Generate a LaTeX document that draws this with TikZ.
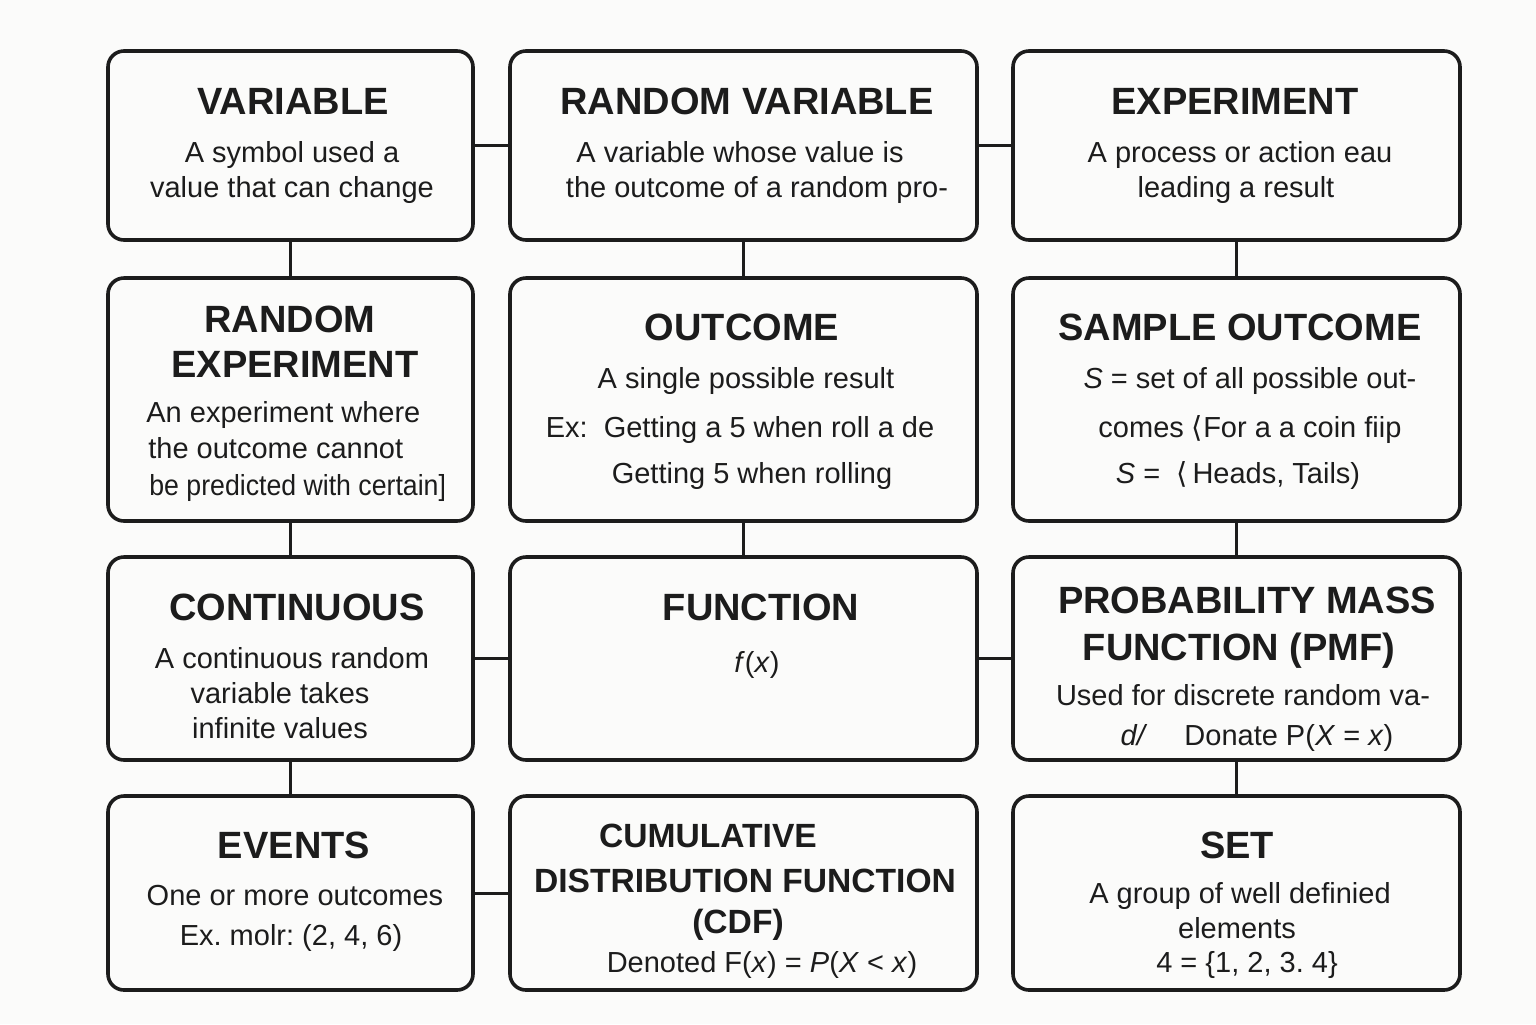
\documentclass[tikz,border=0pt]{standalone}
\usepackage{fontspec}
\setmainfont{Liberation Sans}
\newfontfamily\symfont{DejaVu Sans}
\usetikzlibrary{fit}
\definecolor{ink}{RGB}{28,28,28}
\definecolor{paper}{RGB}{251,251,250}
\frenchspacing
\begin{document}
\begin{tikzpicture}[x=0.5pt,y=-0.5pt,
  box/.style={draw=ink, fill=paper, line width=1.8pt, rounded corners=8pt, inner sep=0pt},
  link/.style={draw=ink, line width=1.5pt},
  hd/.style={anchor=base, font=\bfseries\fontsize{19}{22}\selectfont, text=ink, inner sep=0pt},
  hds/.style={anchor=base, font=\bfseries\fontsize{16.8}{20}\selectfont, text=ink, inner sep=0pt},
  bd/.style={anchor=base, font=\fontsize{14.5}{17}\selectfont, text=ink, inner sep=0pt},
  bdl/.style={bd, anchor=base west},
]
% canvas
\fill[paper] (0,0) rectangle (1536,1024);
\useasboundingbox (0,0) rectangle (1536,1024);

% boxes: three columns, four rows
\node[box, fit={(108,51) (473,240)}]   (var) {};
\node[box, fit={(510,51) (977,240)}]   (rv)  {};
\node[box, fit={(1013,51) (1460,240)}] (exp) {};
\node[box, fit={(108,278) (473,521)}]   (rex) {};
\node[box, fit={(510,278) (977,521)}]   (out) {};
\node[box, fit={(1013,278) (1460,521)}] (smp) {};
\node[box, fit={(108,557) (473,760)}]   (cont) {};
\node[box, fit={(510,557) (977,760)}]   (fun)  {};
\node[box, fit={(1013,557) (1460,760)}] (pmf)  {};
\node[box, fit={(108,796) (473,990)}]   (evt) {};
\node[box, fit={(510,796) (977,990)}]   (cdf) {};
\node[box, fit={(1013,796) (1460,990)}] (set) {};

% connectors
\draw[link] (var.east) -- (rv.west);
\draw[link] (rv.east) -- (exp.west);
\draw[link] (cont.east) -- (fun.west);
\draw[link] (fun.east) -- (pmf.west);
\draw[link] (evt.east) -- (cdf.west);
\draw[link] (var.south) -- (rex.north);
\draw[link] (rex.south) -- (cont.north);
\draw[link] (cont.south) -- (evt.north);
\draw[link] (rv.south) -- (out.north);
\draw[link] (out.south) -- (fun.north);
\draw[link] (exp.south) -- (smp.north);
\draw[link] (smp.south) -- (pmf.north);
\draw[link] (pmf.south) -- (set.north);

% row 1
\node[hd] (var-h) at (293,114) {VARIABLE};
\node[bd] (var-1) at (292,162) {A symbol used a};
\node[bd] (var-2) at (292,197) {value that can change};
\node[hd] (rv-h) at (747,114) {RANDOM VARIABLE};
\node[bd] (rv-1) at (740,162) {A variable whose value is};
\node[bd] (rv-2) at (757,197) {the outcome of a random pro-};
\node[hd] (exp-h) at (1235,114) {EXPERIMENT};
\node[bd] (exp-1) at (1240,162) {A process or action eau};
\node[bd] (exp-2) at (1236,197) {leading a result};

% row 2
\node[hd] (rex-h1) at (290,332) {RANDOM};
\node[hd] (rex-h2) at (295,377) {EXPERIMENT};
\node[bdl] (rex-1) at (146,422) {An experiment where};
\node[bdl] (rex-2) at (148,458) {the outcome cannot};
\node[bdl] (rex-3) at (149,495) {\scalebox{0.92}[1]{be predicted with certain]}};
\node[hd] (out-h) at (742,340) {OUTCOME};
\node[bd] (out-1) at (746,388) {A single possible result};
\node[bd] (out-2) at (740,437) {Ex:\ \ Getting a 5 when roll a de};
\node[bd] (out-3) at (752,483) {Getting 5 when rolling};
\node[hd] (smp-h) at (1240,340) {SAMPLE OUTCOME};
\node[bd] (smp-1) at (1250,388) {\textit{S} = set of all possible out-};
\node[bd] (smp-2) at (1250,437) {comes {\symfont ⟨}For a a coin fiip};
\node[bd] (smp-3) at (1238,483) {\textit{S} = \ {\symfont ⟨}\,Heads, Tails)};

% row 3
\node[hd] (cont-h) at (297,620) {CONTINUOUS};
\node[bd] (cont-1) at (292,668) {A continuous random};
\node[bd] (cont-2) at (280,703) {variable takes};
\node[bd] (cont-3) at (280,738) {infinite values};
\node[hd] (fun-h) at (761,620) {FUNCTION};
\node[bd] (fun-1) at (757,672) {\textit{f}(\textit{x})};
\node[hd] (pmf-h1) at (1247,613) {PROBABILITY MASS};
\node[hd] (pmf-h2) at (1239,660) {FUNCTION (PMF)};
\node[bd] (pmf-1) at (1243,705) {Used for discrete random va-};
\node[bd] (pmf-2) at (1257,745) {\textit{d/}\quad\ Donate P(\textit{X} = \textit{x})};

% row 4
\node[hd] (evt-h) at (294,858) {EVENTS};
\node[bd] (evt-1) at (295,905) {One or more outcomes};
\node[bd] (evt-2) at (291,945) {Ex. molr: (2, 4, 6)};
\node[hds] (cdf-h1) at (708,847) {CUMULATIVE};
\node[hds] (cdf-h2) at (745,892) {DISTRIBUTION FUNCTION};
\node[hds] (cdf-h3) at (738,933) {(CDF)};
\node[bd] (cdf-1) at (762,972) {Denoted F(\textit{x}) = \textit{P}(\textit{X} < \textit{x})};
\node[hd] (set-h) at (1237,858) {SET};
\node[bd] (set-1) at (1240,903) {A group of well definied};
\node[bd] (set-2) at (1237,938) {elements};
\node[bd] (set-3) at (1247,972) {4 = \{1, 2, 3. 4\}};
\end{tikzpicture}
\end{document}
